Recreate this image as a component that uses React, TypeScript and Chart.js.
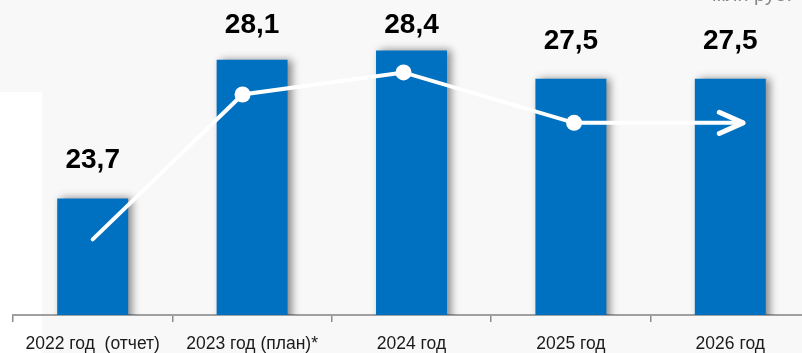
import React, { useEffect, useRef } from "react";
import { Chart, registerables } from "chart.js";
Chart.register(...registerables);

const categories = ["2022 год  (отчет)", "2023 год (план)*", "2024 год", "2025 год", "2026 год"];
const values = [23.7, 28.1, 28.4, 27.5, 27.5];
const valueLabels = ["23,7", "28,1", "28,4", "27,5", "27,5"];
const trendX = [0, 0.94, 1.95, 3.02, 4.08];
const trendY = [22.4, 27.0, 27.7, 26.1, 26.1];
const trendMarkers = [0, 8, 8, 8, 0];
const unitPrefix = "млн ";
const unitLabel = "руб.";

const FONT = "'Liberation Sans', Arial, sans-serif";
const BAR_COLOR = "#0070C0";

const backgroundPlugin = {
  id: "bg",
  beforeDraw(chart: any) {
    const { ctx, width, height } = chart;
    ctx.save();
    ctx.fillStyle = "#f8f8f8";
    ctx.fillRect(0, 0, width, height);
    ctx.fillStyle = "#ffffff";
    ctx.fillRect(0, 92, 42, height - 92);
    ctx.restore();
  },
};

const shadowPlugin = {
  id: "barShadow",
  beforeDatasetDraw(chart: any, args: any) {
    if (args.index !== 0) return;
    const ctx = chart.ctx;
    ctx.save();
    ctx.shadowColor = "rgba(0,0,0,0.45)";
    ctx.shadowBlur = 8;
    ctx.shadowOffsetX = 4;
    ctx.shadowOffsetY = 0;
  },
  afterDatasetDraw(chart: any, args: any) {
    if (args.index !== 0) return;
    chart.ctx.restore();
  },
};

const overlayPlugin = {
  id: "overlay",
  afterDatasetsDraw(chart: any) {
    const ctx = chart.ctx;
    const barMeta = chart.getDatasetMeta(0);
    ctx.save();
    ctx.fillStyle = "#000";
    ctx.font = `bold 28px ${FONT}`;
    ctx.textAlign = "center";
    ctx.textBaseline = "alphabetic";
    barMeta.data.forEach((bar: any, i: number) => {
      const y = Math.max(bar.y - 30, 33);
      ctx.fillText(valueLabels[i], bar.x, y);
    });
    ctx.restore();

    const lineMeta = chart.getDatasetMeta(1);
    const pts = lineMeta.data;
    if (pts.length >= 2) {
      const tip = pts[pts.length - 1];
      const prev = pts[pts.length - 2];
      const ang = Math.atan2(tip.y - prev.y, tip.x - prev.x);
      const len = 26;
      const spread = 0.42;
      ctx.save();
      ctx.strokeStyle = "#ffffff";
      ctx.lineWidth = 5;
      ctx.lineCap = "round";
      ctx.lineJoin = "round";
      ctx.beginPath();
      ctx.moveTo(tip.x - len * Math.cos(ang - spread), tip.y - len * Math.sin(ang - spread));
      ctx.lineTo(tip.x, tip.y);
      ctx.lineTo(tip.x - len * Math.cos(ang + spread), tip.y - len * Math.sin(ang + spread));
      ctx.stroke();
      ctx.restore();
    }

    ctx.save();
    ctx.fillStyle = "#8a8a8a";
    ctx.font = `20px ${FONT}`;
    ctx.textBaseline = "alphabetic";
    ctx.textAlign = "left";
    ctx.fillText(unitLabel, 754, 1);
    ctx.textAlign = "right";
    ctx.fillText(unitPrefix, 754, 1);
    ctx.restore();
  },
};

export default function App() {
  const ref = useRef<HTMLCanvasElement | null>(null);
  useEffect(() => {
    if (!ref.current) return;
    const chart = new Chart(ref.current, {
      type: "bar",
      data: {
        labels: categories,
        datasets: [
          {
            type: "bar",
            xAxisID: "x",
            data: values,
            backgroundColor: BAR_COLOR,
            borderWidth: 0,
            grouped: false,
            categoryPercentage: 1,
            barPercentage: 0.445,
            order: 1,
          } as any,
          {
            type: "line",
            xAxisID: "xl",
            data: trendX.map((x, i) => ({ x, y: trendY[i] })),
            borderColor: "#ffffff",
            borderWidth: 4,
            borderCapStyle: "round",
            pointRadius: trendMarkers,
            pointHoverRadius: trendMarkers,
            pointBackgroundColor: "#ffffff",
            pointBorderWidth: 0,
            tension: 0,
            order: 0,
          } as any,
        ],
      },
      options: {
        animation: false,
        responsive: false,
        events: [],
        layout: { padding: { left: 13, right: 0, top: 0, bottom: 0 } },
        plugins: { legend: { display: false }, tooltip: { enabled: false } },
        scales: {
          x: {
            type: "category",
            offset: true,
            grid: {
              display: true,
              drawOnChartArea: false,
              drawTicks: true,
              tickLength: 7,
              color: "#8c8c8c",
              lineWidth: 1.5,
              offset: true,
            },
            border: { display: true, color: "#a0a0a0", width: 2 },
            ticks: {
              font: { family: FONT, size: 17.5 },
              color: "#1a1a1a",
              padding: 12,
              maxRotation: 0,
              autoSkip: false,
            },
          },
          xl: {
            type: "linear",
            position: "bottom",
            min: -0.5,
            max: 4.5,
            offset: false,
            bounds: "ticks",
            display: false,
          },
          y: { min: 20, max: 30, display: false },
        },
      },
      plugins: [backgroundPlugin, shadowPlugin, overlayPlugin],
    } as any);
    return () => chart.destroy();
  }, []);
  return (
    <div style={{ position: "fixed", left: 0, top: 0, width: 810, height: 367 }}>
      <canvas ref={ref} width={810} height={367} style={{ width: 810, height: 367, display: "block" }} />
    </div>
  );
}
